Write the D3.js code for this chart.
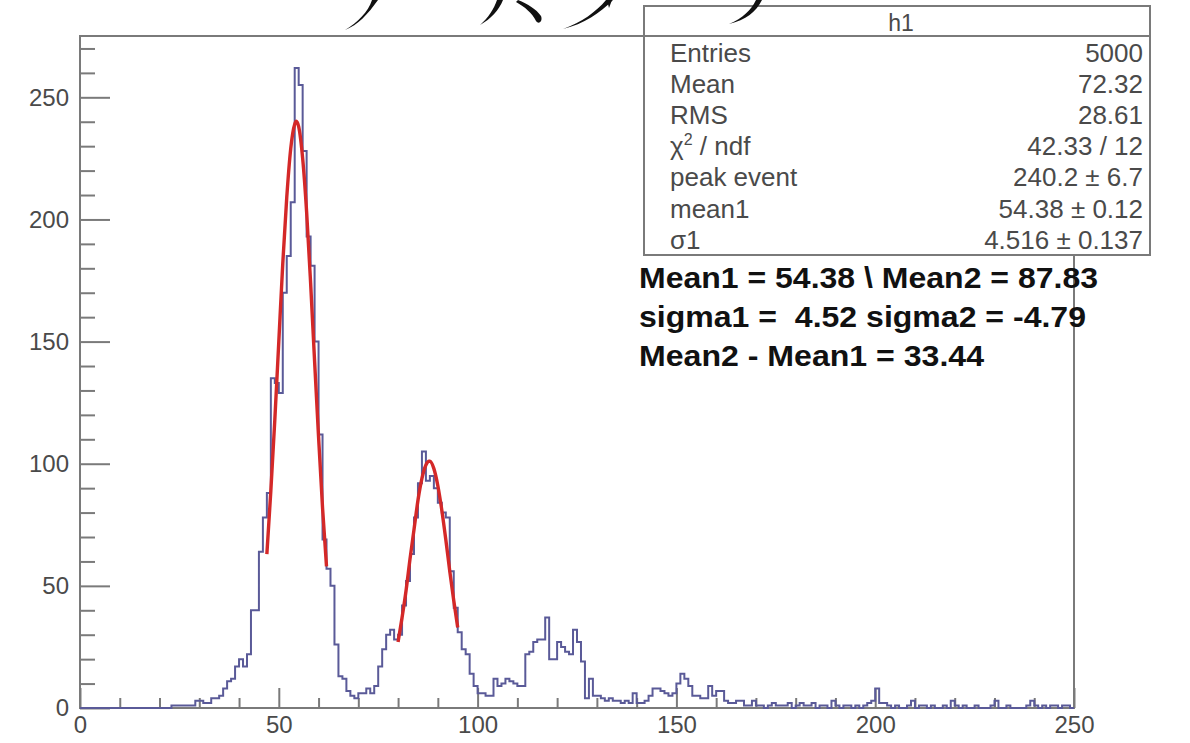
<!DOCTYPE html>
<meta charset="utf-8">
<script src="https://d3js.org/d3.v7.min.js"></script>
<style>
  body { margin: 0; background: #fff; }
  text { font-family: "Liberation Sans", Arial, Helvetica, sans-serif; }
</style>
<div id="hist"></div>
<script>

// histogram h1 : 250 bins of width 1 on [0,250]
var counts = [
  0,0,0,0,0,0,0,0,0,0,
  0,0,0,0,0,0,0,0,0,0,
  0,0,0,1,1,1,1,1,1,3,
  3,2,2,4,4,5,8,11,12,17,
  20,17,22,40,40,64,78,88,135,133,
  129,170,185,207,262,255,228,193,181,150,
  112,69,57,50,26,13,12,7,5,4,
  6,6,8,6,9,17,24,30,32,28,
  30,42,52,63,78,92,105,93,95,90,
  84,80,78,56,41,31,24,22,14,9,
  6,6,5,5,12,9,10,12,11,10,
  9,9,22,23,27,28,28,37,20,20,
  27,25,23,22,32,27,19,4,12,5,
  5,4,3,4,3,3,2,3,2,6,
  2,2,3,5,8,8,7,6,5,6,
  10,14,12,9,5,5,4,4,9,5,
  7,7,3,2,2,3,3,1,1,3,
  1,1,0,1,2,1,1,1,2,0,
  1,2,1,1,2,0,1,1,0,3,
  1,0,1,1,0,1,0,1,2,3,
  8,2,2,1,0,1,0,0,1,3,
  0,1,1,0,1,0,0,1,0,3,
  1,0,1,0,0,1,0,0,0,1,
  3,0,0,1,0,0,0,0,1,3,
  1,0,1,0,1,1,0,1,1,0
];

// fitted curves (red)
var fit1X = [47,48,49,50,51,52,53,54,54.4,55,56,57,58,59,60,61,62];
var fit1Y = [63,89,118,150,182,209,229,239,240.2,238,225,203,174,142,111,82,58];
var fit2X = [80,81,82,83,84,85,86,87,87.8,88,89,90,91,92,93,94,95];
var fit2Y = [27,37,48,61,73,85,94,99.5,101,101,98,91,81,69,56,44,33];

var xMajor = [0,50,100,150,200,250];
var yMajor = [0,50,100,150,200,250];

var statLabels = ["Entries","Mean","RMS","\u03c7\u00b2 / ndf","peak event","mean1","\u03c31"];
var statValues = ["5000","72.32","28.61","42.33 / 12","240.2 \u00b1 6.7","54.38 \u00b1 0.12","4.516 \u00b1 0.137"];

var notes = ["Mean1 = 54.38 \\ Mean2 = 87.83",
             "sigma1 =  4.52 sigma2 = -4.79",
             "Mean2 - Mean1 = 33.44"];

var W = 1190, H = 743;
var frame = {left: 80, right: 1074, top: 36, bottom: 708};

var svg = d3.select("#hist")
  .append("svg")
    .attr("width", W)
    .attr("height", H);

var x = d3.scaleLinear()
  .domain([0, 250])
  .range([frame.left, frame.right]);

var y = d3.scaleLinear()
  .domain([0, 262 * 1.05])
  .range([frame.bottom, frame.top]);

var axisColor = "#7a7a7a";
var labelColor = "#4a4a4a";

// frame
svg.append("rect")
  .attr("x", frame.left)
  .attr("y", frame.top)
  .attr("width", frame.right - frame.left)
  .attr("height", frame.bottom - frame.top)
  .attr("fill", "none")
  .attr("stroke", axisColor)
  .attr("stroke-width", 2);

// Y axis: major and minor ticks pointing inwards
var yMinor = d3.range(0, 275, 10).filter(function(v) { return v % 50 != 0; });
svg.append("g")
  .attr("transform", "translate(" + frame.left + ",0)")
  .call(d3.axisLeft(y).tickValues(yMajor).tickSize(-30).tickPadding(11).tickFormat(d3.format("d")));
svg.append("g")
  .attr("transform", "translate(" + frame.left + ",0)")
  .call(d3.axisLeft(y).tickValues(yMinor).tickSize(-15).tickFormat(""));

// X axis
var xMinor = d3.range(0, 251, 10).filter(function(v) { return v % 50 != 0; });
svg.append("g")
  .attr("transform", "translate(0," + frame.bottom + ")")
  .call(d3.axisBottom(x).tickValues(xMajor).tickSize(-20).tickPadding(8).tickFormat(d3.format("d")));
svg.append("g")
  .attr("transform", "translate(0," + frame.bottom + ")")
  .call(d3.axisBottom(x).tickValues(xMinor).tickSize(-10).tickFormat(""));

svg.selectAll(".domain").remove();
svg.selectAll(".tick line").attr("stroke", axisColor).attr("stroke-width", 2);
svg.selectAll(".tick text")
  .attr("fill", labelColor)
  .style("font-size", "24px")
  .style("font-family", "Liberation Sans, Arial, sans-serif");

// histogram outline
var pts = counts.map(function(c, i) { return [i, c]; });
pts.push([250, counts[249]]);
var step = d3.line()
  .x(function(d) { return x(d[0]); })
  .y(function(d) { return y(d[1]); })
  .curve(d3.curveStepAfter);
svg.append("path")
  .datum(pts)
  .attr("d", step)
  .attr("fill", "none")
  .attr("stroke", "#5a5a98")
  .attr("stroke-width", 2);

// fits
var smooth = d3.line()
  .x(function(d) { return x(d[0]); })
  .y(function(d) { return y(d[1]); })
  .curve(d3.curveMonotoneX);
[[fit1X, fit1Y], [fit2X, fit2Y]].forEach(function(f) {
  svg.append("path")
    .datum(f[0].map(function(v, i) { return [v, f[1][i]]; }))
    .attr("d", smooth)
    .attr("fill", "none")
    .attr("stroke", "#d42828")
    .attr("stroke-width", 3.4);
});

// stats box
var box = {left: 644, right: 1150, top: 6, sep: 36, bottom: 255};
svg.append("rect")
  .attr("x", box.left).attr("y", box.top)
  .attr("width", box.right - box.left).attr("height", box.bottom - box.top)
  .attr("fill", "#fff")
  .attr("stroke", axisColor)
  .attr("stroke-width", 2);
svg.append("line")
  .attr("x1", box.left).attr("x2", box.right)
  .attr("y1", box.sep).attr("y2", box.sep)
  .attr("stroke", axisColor)
  .attr("stroke-width", 2);
svg.append("text")
  .attr("x", (box.left + box.right) / 2 + 4)
  .attr("y", 31)
  .attr("text-anchor", "middle")
  .attr("fill", labelColor)
  .style("font-size", "23px")
  .text("h1");

statLabels.forEach(function(s, i) {
  var yy = 62 + i * 31.1;
  var t = svg.append("text")
    .attr("x", 670).attr("y", yy)
    .attr("fill", labelColor)
    .style("font-size", "26px");
  if (i == 3) {
    t.append("tspan").text("\u03c7");
    t.append("tspan").attr("dy", -10).style("font-size", "16px").text("2");
    t.append("tspan").attr("dy", 10).text(" / ndf");
  } else {
    t.text(s);
  }
  svg.append("text")
    .attr("x", 1143).attr("y", yy)
    .attr("text-anchor", "end")
    .attr("fill", labelColor)
    .style("font-size", "26px")
    .text(statValues[i]);
});

// fit summary text
var noteWidths = [459, 447, 345];
notes.forEach(function(s, i) {
  svg.append("text")
    .attr("x", 639)
    .attr("y", 288 + i * 39)
    .attr("fill", "#111")
    .attr("textLength", noteWidths[i])
    .attr("lengthAdjust", "spacingAndGlyphs")
    .style("font-size", "30px")
    .style("font-weight", "bold")
    .style("white-space", "pre")
    .text(s);
});

// cut-off brush strokes along the top edge
var strokes = [
  "M372,0 C368,12 358,22 345,30 C358,25 368,14 378,0 Z",
  "M497,0 C494,9 488,18 480,25 C491,19 499,10 503,0 Z",
  "M516,2 C525,7 532,13 536,21 C539,25 543,21 541,16 C536,9 528,4 518,0 Z",
  "M606,0 C596,12 582,22 563,29 C584,24 600,13 613,0 Z",
  "M607,0 L609,8 L612,0 Z",
  "M756,0 C751,10 743,18 729,24 C746,20 756,12 762,0 Z"
];
svg.selectAll(".brush")
  .data(strokes)
  .enter()
  .append("path")
    .attr("d", function(d) { return d; })
    .attr("fill", "#111");

</script>
